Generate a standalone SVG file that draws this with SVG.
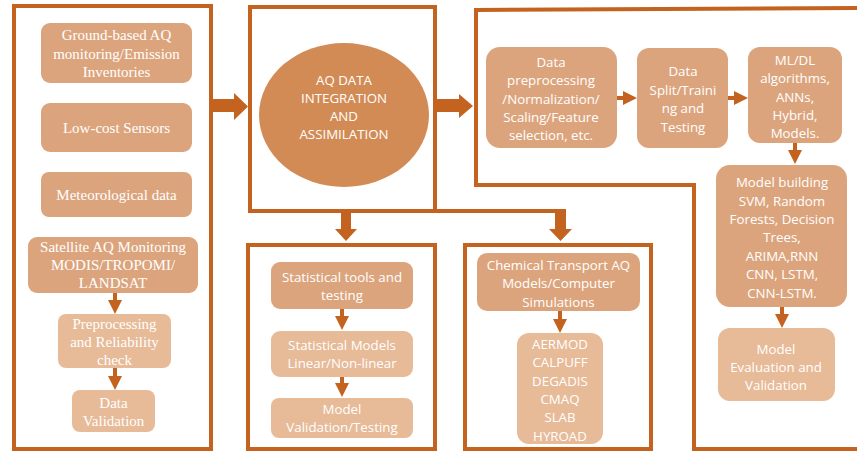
<svg xmlns="http://www.w3.org/2000/svg" width="857" height="452" viewBox="0 0 857 452">
<defs>
<style>
.panel{fill:none;stroke:#C4631F;stroke-width:4}
.dk{fill:#DCA47C}
.lt{fill:#E7BA98}
.circ{fill:#D38B55}
.serif{font-family:"Liberation Serif","Times New Roman",serif;font-size:15px;fill:#FFFFFF;text-anchor:middle}
.sans{font-family:"Open Sans","Liberation Sans",sans-serif;font-size:13.3px;fill:#FFFFFF;text-anchor:middle}
.conn{stroke:#C4631F;stroke-width:4;fill:none}
.big{fill:#C4631F}
</style>
<marker id="ah" markerUnits="userSpaceOnUse" markerWidth="16" markerHeight="16" refX="6" refY="7" orient="auto">
<path d="M0,0 L14,7 L0,14 z" fill="#C4631F"/>
</marker>
</defs>
<rect width="857" height="452" fill="#FFFFFF"/>

<g id="panel-left"><rect class="panel" x="14" y="6" width="197" height="443"/></g>
<g id="panel-middle"><rect class="panel" x="250" y="7" width="185" height="204"/></g>
<g id="panel-right"><path class="panel" d="M857,8 L476,10 L476,185 L694,185 L694,449 L857,449"/></g>
<g id="panel-stat"><rect class="panel" x="248" y="245" width="187" height="204"/></g>
<g id="panel-chem"><rect class="panel" x="465" y="245" width="186" height="204"/></g>

<g id="n-ground"><rect class="dk" x="41" y="23" width="151" height="60" rx="9"/>
<text class="serif" x="116.5" y="40">Ground-based AQ</text><text class="serif" x="116.5" y="59">monitoring/Emission</text><text class="serif" x="116.5" y="77">Inventories</text></g>
<g id="n-lowcost"><rect class="dk" x="41" y="103" width="151" height="49" rx="9"/>
<text class="serif" x="116.5" y="133">Low-cost Sensors</text></g>
<g id="n-met"><rect class="dk" x="41" y="172" width="151" height="45" rx="8"/>
<text class="serif" x="116.5" y="200">Meteorological data</text></g>
<g id="n-sat"><rect class="dk" x="28" y="237" width="170" height="56" rx="9"/>
<text class="serif" x="113" y="252">Satellite AQ Monitoring</text><text class="serif" x="113" y="270">MODIS/TROPOMI/</text><text class="serif" x="113" y="288">LANDSAT</text></g>
<g id="n-prep"><rect class="lt" x="58" y="314" width="113" height="54" rx="8"/>
<text class="serif" x="114.5" y="329">Preprocessing</text><text class="serif" x="114.5" y="347">and Reliability</text><text class="serif" x="114.5" y="365">check</text></g>
<g id="n-valid"><rect class="lt" x="72" y="390" width="83" height="42" rx="8"/>
<text class="serif" x="113.5" y="408">Data</text><text class="serif" x="113.5" y="426">Validation</text></g>

<g id="n-aq"><ellipse class="circ" cx="344" cy="115" rx="85" ry="72"/>
<text class="sans" x="344" y="85">AQ DATA</text><text class="sans" x="344" y="103">INTEGRATION</text><text class="sans" x="344" y="121">AND</text><text class="sans" x="344" y="139">ASSIMILATION</text></g>

<g id="n-stat1"><rect class="dk" x="271" y="262" width="142" height="47" rx="9"/>
<text class="sans" x="342" y="282">Statistical tools and</text><text class="sans" x="342" y="300">testing</text></g>
<g id="n-stat2"><rect class="lt" x="271" y="331" width="142" height="46" rx="9"/>
<text class="sans" x="342" y="350">Statistical Models</text><text class="sans" x="342" y="368">Linear/Non-linear</text></g>
<g id="n-stat3"><rect class="lt" x="271" y="398" width="142" height="40" rx="8"/>
<text class="sans" x="342" y="414">Model</text><text class="sans" x="342" y="432">Validation/Testing</text></g>

<g id="n-chem1"><rect class="dk" x="477" y="253" width="163" height="58" rx="10"/>
<text class="sans" x="558.5" y="270">Chemical Transport AQ</text><text class="sans" x="558.5" y="288">Models/Computer</text><text class="sans" x="558.5" y="307">Simulations</text></g>
<g id="n-chem2"><rect class="lt" x="517" y="333" width="86" height="111" rx="12"/>
<text class="sans" x="560" y="349">AERMOD</text><text class="sans" x="560" y="367">CALPUFF</text><text class="sans" x="560" y="386">DEGADIS</text><text class="sans" x="560" y="404">CMAQ</text><text class="sans" x="560" y="422">SLAB</text><text class="sans" x="560" y="441">HYROAD</text></g>

<g id="n-dataprep"><rect class="dk" x="486" y="47" width="131" height="101" rx="14"/>
<text class="sans" x="551" y="67">Data</text><text class="sans" x="551" y="85">preprocessing</text><text class="sans" x="551" y="104">/Normalization/</text><text class="sans" x="551" y="122">Scaling/Feature</text><text class="sans" x="551" y="140">selection, etc.</text></g>
<g id="n-split"><rect class="dk" x="637" y="48" width="91" height="100" rx="12"/>
<text class="sans" x="683" y="76">Data</text><text class="sans" x="683" y="95">Split/Traini</text><text class="sans" x="683" y="113">ng and</text><text class="sans" x="683" y="132">Testing</text></g>
<g id="n-ml"><rect class="dk" x="748" y="47" width="94" height="96" rx="12"/>
<text class="sans" x="795" y="65">ML/DL</text><text class="sans" x="795" y="83">algorithms,</text><text class="sans" x="795" y="102">ANNs,</text><text class="sans" x="795" y="120">Hybrid,</text><text class="sans" x="795" y="138">Models.</text></g>
<g id="n-build"><rect class="dk" x="716" y="165" width="131" height="142" rx="14"/>
<text class="sans" x="782" y="187">Model building</text><text class="sans" x="782" y="206">SVM, Random</text><text class="sans" x="782" y="224">Forests, Decision</text><text class="sans" x="782" y="242">Trees,</text><text class="sans" x="782" y="261">ARIMA,RNN</text><text class="sans" x="782" y="279">CNN, LSTM,</text><text class="sans" x="782" y="298">CNN-LSTM.</text></g>
<g id="n-eval"><rect class="lt" x="718" y="328" width="117" height="73" rx="12"/>
<text class="sans" x="776" y="354">Model</text><text class="sans" x="776" y="372">Evaluation and</text><text class="sans" x="776" y="390">Validation</text></g>

<g id="connectors">
<polygon class="big" points="213,99 234,99 234,93 248,106.5 234,120 234,112 213,112"/>
<polygon class="big" points="437,99 459,99 459,94 473,106 459,118 459,112 437,112"/>
<path class="conn" d="M435,211 L565,211"/>
<polygon class="big" points="341,211 351,211 351,229 357,229 346,241 335,229 341,229"/>
<polygon class="big" points="555,209 566,209 566,229 572,229 560.5,241 549,229 555,229"/>
<line class="conn" x1="115" y1="293" x2="115" y2="306" marker-end="url(#ah)"/>
<line class="conn" x1="115" y1="368" x2="115" y2="382" marker-end="url(#ah)"/>
<line class="conn" x1="342" y1="309" x2="342" y2="322" marker-end="url(#ah)"/>
<line class="conn" x1="342" y1="377" x2="342" y2="389" marker-end="url(#ah)"/>
<line class="conn" x1="560" y1="311" x2="560" y2="325" marker-end="url(#ah)"/>
<line class="conn" x1="617" y1="98" x2="629" y2="98" marker-end="url(#ah)"/>
<line class="conn" x1="728" y1="98" x2="740" y2="98" marker-end="url(#ah)"/>
<line class="conn" x1="795" y1="143" x2="795" y2="156" marker-end="url(#ah)"/>
<line class="conn" x1="782" y1="307" x2="782" y2="320" marker-end="url(#ah)"/>
</g>
</svg>
